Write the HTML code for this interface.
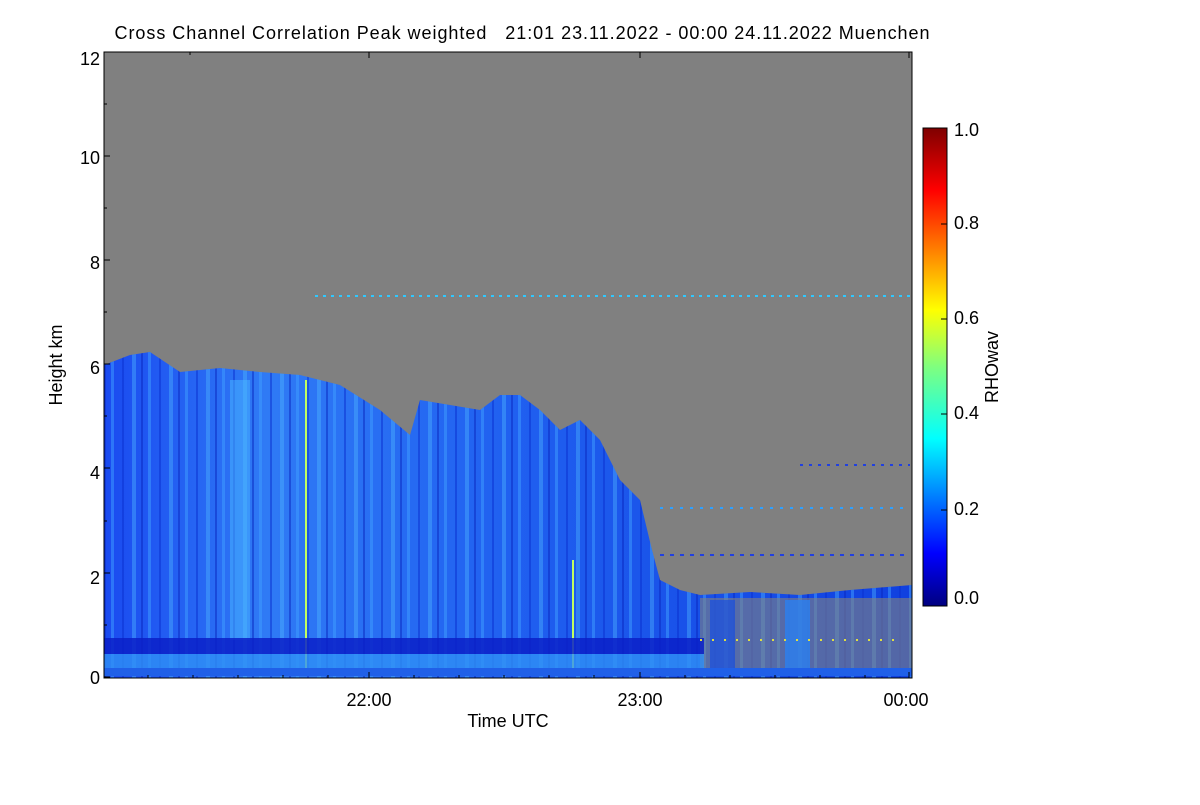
<!DOCTYPE html>
<html><head><style>
body{margin:0;background:#fff;width:1200px;height:800px;overflow:hidden}
svg text{font-family:"Liberation Sans",sans-serif;fill:#000;white-space:pre}
</style></head><body>
<svg width="1200" height="800" viewBox="0 0 1200 800">
<defs>
<linearGradient id="cb" x1="0" y1="1" x2="0" y2="0">
<stop offset="0" stop-color="#00007f"/><stop offset="0.11" stop-color="#0000ff"/>
<stop offset="0.35" stop-color="#00ffff"/><stop offset="0.5" stop-color="#7fff7f"/>
<stop offset="0.62" stop-color="#ffff00"/><stop offset="0.87" stop-color="#ff0000"/>
<stop offset="1" stop-color="#7f0000"/></linearGradient>
<linearGradient id="cl" x1="0" y1="0" x2="1" y2="0">
<stop offset="0" stop-color="#1a4af0"/><stop offset="0.2" stop-color="#2f7af5"/>
<stop offset="0.5" stop-color="#2060f0"/><stop offset="1" stop-color="#1040e0"/></linearGradient>
<pattern id="st" width="37" height="10" patternUnits="userSpaceOnUse">
<rect x="0" y="0" width="3" height="10" fill="#40a0ff" opacity="0.5"/>
<rect x="11" y="0" width="2" height="10" fill="#0a30d0" opacity="0.5"/>
<rect x="21" y="0" width="4" height="10" fill="#50b8ff" opacity="0.4"/>
<rect x="30" y="0" width="2" height="10" fill="#0a28c0" opacity="0.5"/>
</pattern>
</defs>
<rect x="104" y="52" width="808" height="626" fill="#808080"/>
<polygon fill="url(#cl)" points="104,365 130,355 150,352 180,372 220,368 260,372 300,375 340,385 380,410 410,435 420,400 450,405 480,410 500,395 520,395 540,410 560,430 580,420 600,440 620,480 640,500 652,550 660,580 680,590 700,595 750,592 800,595 850,590 912,585 912,678 104,678"/>
<polygon fill="url(#st)" points="104,365 130,355 150,352 180,372 220,368 260,372 300,375 340,385 380,410 410,435 420,400 450,405 480,410 500,395 520,395 540,410 560,430 580,420 600,440 620,480 640,500 652,550 660,580 680,590 700,595 750,592 800,595 850,590 912,585 912,678 104,678"/>
<rect x="230" y="380" width="20" height="260" fill="#4ab8ff" opacity="0.5"/>
<rect x="305" y="380" width="2" height="290" fill="#c0ff60"/>
<rect x="572" y="560" width="2" height="110" fill="#c0ff60"/>
<rect x="700" y="598" width="212" height="70" fill="#808080" opacity="0.6"/>
<rect x="785" y="600" width="25" height="70" fill="#2a80f0" opacity="0.8"/>
<rect x="710" y="600" width="25" height="70" fill="#1a50e0" opacity="0.7"/>
<rect x="104" y="638" width="600" height="16" fill="#0a20c8" opacity="0.85"/>
<rect x="104" y="654" width="600" height="16" fill="#3090f5" opacity="0.8"/>
<rect x="104" y="668" width="808" height="8" fill="#2060e8"/>
<line x1="315" y1="296" x2="910" y2="296" stroke="#30c8ff" stroke-width="2" stroke-dasharray="3 5"/>
<line x1="660" y1="555" x2="910" y2="555" stroke="#2040e0" stroke-width="2" stroke-dasharray="4 6"/>
<line x1="660" y1="508" x2="910" y2="508" stroke="#30a0ff" stroke-width="2" stroke-dasharray="3 7"/>
<line x1="800" y1="465" x2="910" y2="465" stroke="#2040e0" stroke-width="2" stroke-dasharray="3 6"/>
<line x1="700" y1="640" x2="900" y2="640" stroke="#e0e040" stroke-width="2" stroke-dasharray="2 10"/>
<rect x="104" y="52" width="808" height="626" fill="none" stroke="#000" stroke-width="1"/>
<g stroke="#000" stroke-width="1">
<line x1="104" y1="677" x2="110" y2="677"/><line x1="104" y1="573" x2="110" y2="573"/>
<line x1="104" y1="468" x2="110" y2="468"/><line x1="104" y1="364" x2="110" y2="364"/>
<line x1="104" y1="260" x2="110" y2="260"/><line x1="104" y1="156" x2="110" y2="156"/>
<line x1="104" y1="625" x2="107" y2="625"/><line x1="104" y1="521" x2="107" y2="521"/>
<line x1="104" y1="416" x2="107" y2="416"/><line x1="104" y1="312" x2="107" y2="312"/>
<line x1="104" y1="208" x2="107" y2="208"/><line x1="104" y1="104" x2="107" y2="104"/>
<line x1="369" y1="678" x2="369" y2="672"/><line x1="640" y1="678" x2="640" y2="672"/><line x1="909" y1="678" x2="909" y2="672"/>
<line x1="148" y1="678" x2="148" y2="675"/><line x1="193" y1="678" x2="193" y2="675"/><line x1="238" y1="678" x2="238" y2="675"/><line x1="283" y1="678" x2="283" y2="675"/><line x1="328" y1="678" x2="328" y2="675"/>
<line x1="414" y1="678" x2="414" y2="675"/><line x1="459" y1="678" x2="459" y2="675"/><line x1="504" y1="678" x2="504" y2="675"/><line x1="549" y1="678" x2="549" y2="675"/><line x1="594" y1="678" x2="594" y2="675"/>
<line x1="685" y1="678" x2="685" y2="675"/><line x1="730" y1="678" x2="730" y2="675"/><line x1="775" y1="678" x2="775" y2="675"/><line x1="820" y1="678" x2="820" y2="675"/><line x1="865" y1="678" x2="865" y2="675"/>
<line x1="190" y1="52" x2="190" y2="55"/><line x1="369" y1="52" x2="369" y2="58"/><line x1="640" y1="52" x2="640" y2="58"/><line x1="909" y1="52" x2="909" y2="58"/>
</g>
<g font-size="18" text-anchor="end">
<text x="100" y="684">0</text><text x="100" y="584">2</text><text x="100" y="479">4</text>
<text x="100" y="374">6</text><text x="100" y="269">8</text><text x="100" y="164">10</text><text x="100" y="65">12</text>
</g>
<g font-size="18" text-anchor="middle">
<text x="369" y="706">22:00</text><text x="640" y="706">23:00</text><text x="906" y="706">00:00</text>
<text x="508" y="727">Time UTC</text>
</g>
<text x="522" y="39" font-size="18" text-anchor="middle" textLength="815" xml:space="preserve">Cross Channel Correlation Peak weighted   21:01 23.11.2022 - 00:00 24.11.2022 Muenchen</text>
<text transform="translate(62,365) rotate(-90)" font-size="18" text-anchor="middle">Height km</text>
<rect x="923" y="128" width="24" height="478" fill="url(#cb)" stroke="#000"/>
<g font-size="18">
<text x="954" y="604">0.0</text><text x="954" y="515">0.2</text><text x="954" y="419">0.4</text>
<text x="954" y="324">0.6</text><text x="954" y="229">0.8</text><text x="954" y="136">1.0</text>
</g>
<g stroke="#000"><line x1="941" y1="510" x2="947" y2="510"/><line x1="941" y1="414" x2="947" y2="414"/><line x1="941" y1="319" x2="947" y2="319"/><line x1="941" y1="224" x2="947" y2="224"/></g>
<text transform="translate(998,367) rotate(-90)" font-size="18" text-anchor="middle">RHOwav</text>
</svg>
</body></html>
